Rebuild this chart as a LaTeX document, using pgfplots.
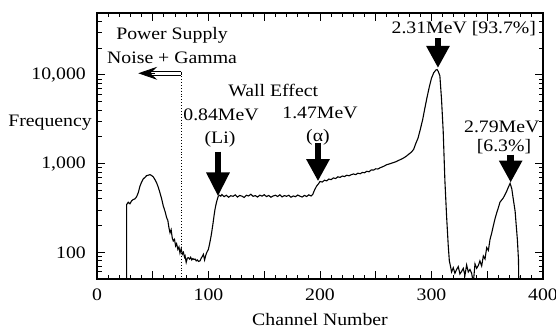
\documentclass[border=0pt]{standalone}
\usepackage{pgfplots}
\pgfplotsset{compat=1.18}
\usepackage{fontspec}
\setmainfont{Liberation Serif}[FakeStretch=1.13]
\usetikzlibrary{arrows.meta}
\begin{document}
\fontsize{17.5}{20}\selectfont
\begin{tikzpicture}
\begin{axis}[name=ax, scale only axis, width=446pt, height=266pt,
  ymode=log, xmin=0, xmax=400, ymin=50, ymax=50000,
  xtick={0,50,...,400}, xticklabels={0,,100,,200,,300,,400},
  minor x tick num=4,
  ytick={100,1000,10000}, yticklabels={100,{1,000},{10,000}},
  minor ytick={60,70,80,90,200,300,400,500,600,700,800,900,2000,3000,4000,5000,6000,7000,8000,9000,20000,30000,40000},
  tick align=inside, major tick length=8pt, minor tick length=4.5pt,
  axis line style={line width=1.2pt},
  every tick/.style={line width=1pt,black},
  yticklabel style={inner sep=0pt, xshift=-11pt},
  xticklabel style={inner sep=0pt, yshift=-10pt},
  xlabel={Channel Number},
  xlabel style={at={(rel axis cs:0.5,0)}, anchor=north, inner sep=0pt, yshift=-34pt},
  ylabel={Frequency},
  ylabel style={rotate=-90, at={(rel axis cs:0,0.586)}, anchor=east, inner sep=0pt, xshift=-5pt},
]
\addplot[black, line width=1.1pt] coordinates {
(26.5,10) (26.6,346) (28,367) (29.5,352) (31,380) (32.5,394) (34,400) (35.5,423) (37,470) (38.5,556) (40,620) (41.5,673) (43,700) (44.5,733) (46,740) (47.5,752) (49,735) (50.5,708) (52,660) (53.5,606) (55,540) (56.5,468) (58,400) (59.5,331) (61,290) (62.5,245) (63.5,230) (64.5,190) (65.5,166) (66.5,180) (67.5,145) (68.4,134) (69.5,140) (70.5,118) (71.4,125) (72.5,108) (73.5,115) (74.4,98) (75.5,110) (76.5,95) (77.5,100) (78.5,88) (79,91) (80,77) (81,86) (81.9,87) (83,84) (84,88) (85,82) (86,85) (87,83) (88,84) (89,80) (90,82) (91,79) (92.4,80) (93.5,86) (94.5,90) (95.4,95) (96.5,82) (97.5,92) (98.5,100) (99.9,108) (101,125) (102,145) (102.8,166) (104,210) (105,260) (105.8,304) (107,360) (108,400) (108.8,429) (110,440) (111,430)
(112,448) (114,425) (116,440) (118,418) (120,435) (122,428) (124,445) (126,420) (128,438) (130,430) (132,415) (134,440) (136,432) (138,452) (140,428) (142,436) (144,420) (146,441) (148,430) (150,446) (152,425) (154,438) (156,418) (158,432) (160,440) (162,426) (164,445) (166,422) (168,436) (170,428) (172,440) (174,418) (176,432) (178,424) (180,442) (182,430) (184,420) (186,438) (188,426) (190,445) (192,432) (193.5,450) (195,500) (197,560) (199,600) (200,630) (202,620) (204,650) (206,640) (208,670) (210,660) (212,690) (214,680) (216,710) (218,700) (220,725) (222,715) (224,740) (226,730) (228,750) (230,765) (232,752) (234,780) (236,770) (238,795) (240,790) (242,820) (244,810) (246,850) (248,845) (250,875) (252,870) (254,900) (256,920) (258,945) (260,975) (262,990) (264,1010) (266,1030) (268,1050) (270,1080) (272,1110) (274,1140) (276,1180) (278,1230) (280,1290) (282,1350) (284,1450) (286,1700) (288,1950) (290,2450) (292,3100) (294,4200) (296,5600) (298,7300) (300,9200) (302,10600) (304,11400) (305,11500) (306,11000) (307.5,9800) (309,5300) (310.5,2300) (312,650) (313.5,260) (315,120) (316,80) (317,70) (318,60) (319.5,67) (321,58) (322.5,64) (324,69) (325.5,57) (327,61) (328.5,66) (330,55) (331.5,72) (333,60) (334.5,64) (336,58) (337.5,45) (339,74) (340.5,66) (342,71) (343.4,80) (345,70) (346.5,91) (348,84) (349.5,113) (351,105) (352.5,140) (354,165) (355.4,198) (357,240) (358.5,279) (360,320) (361.4,367) (363,390) (364.4,411) (366,450) (367.4,488) (369,545) (370.5,600) (372,520) (373.4,394) (375,290) (376,200) (377,140) (378,83) (379,10)
};
% annotations
\draw[dotted, line width=0.9pt] (axis cs:75.3,10450) -- (axis cs:75.3,50);
\draw[line width=0.9pt] ([yshift=1.7pt]axis cs:75.3,10450) -- ([yshift=1.7pt]axis cs:46,10450);
\draw[line width=0.9pt] ([yshift=-1.7pt]axis cs:75.3,10450) -- ([yshift=-1.7pt]axis cs:46,10450);
\draw[line width=0.9pt] ([yshift=1.7pt]axis cs:75.3,10450) -- ([yshift=-1.7pt]axis cs:75.3,10450);
\draw[line width=0.8pt, -{Stealth[length=19pt,width=13pt,inset=7pt]}] (axis cs:52,10450) -- (axis cs:37,10450);
\node at (axis cs:67.3,28100) {Power Supply};
\node at (axis cs:67.3,15500) {Noise + Gamma};
\node at (axis cs:158,6700) {Wall Effect};
\node at (axis cs:111.2,3550) {0.84MeV};
\node at (axis cs:110.3,1860) {(Li)};
\node at (axis cs:200,3740) {1.47MeV};
\node at (axis cs:198.2,1960) {(α)};
\node at (axis cs:329,33700) {2.31MeV [93.7\%]};
\node at (axis cs:363,2600) {2.79MeV};
\node at (axis cs:365,1550) {[6.3\%]};
\draw[line width=6.5pt, -{Triangle[length=24pt,width=22pt]}] (axis cs:108.5,1365) -- (axis cs:108.5,427);
\draw[line width=6.5pt, -{Triangle[length=22pt,width=22pt]}] (axis cs:198.2,1720) -- (axis cs:198.2,634);
\draw[line width=6.5pt, -{Triangle[length=22pt,width=22pt]}] (axis cs:305.8,26000) -- (axis cs:305.8,12000);
\draw[line width=6.5pt, -{Triangle[length=22pt,width=22pt]}] (axis cs:371,1260) -- (axis cs:371,612);
\end{axis}
\pgfresetboundingbox
\useasboundingbox ([xshift=-97pt,yshift=-50pt]ax.south west) rectangle ([xshift=13pt,yshift=13pt]ax.north east);
\end{tikzpicture}
\end{document}
